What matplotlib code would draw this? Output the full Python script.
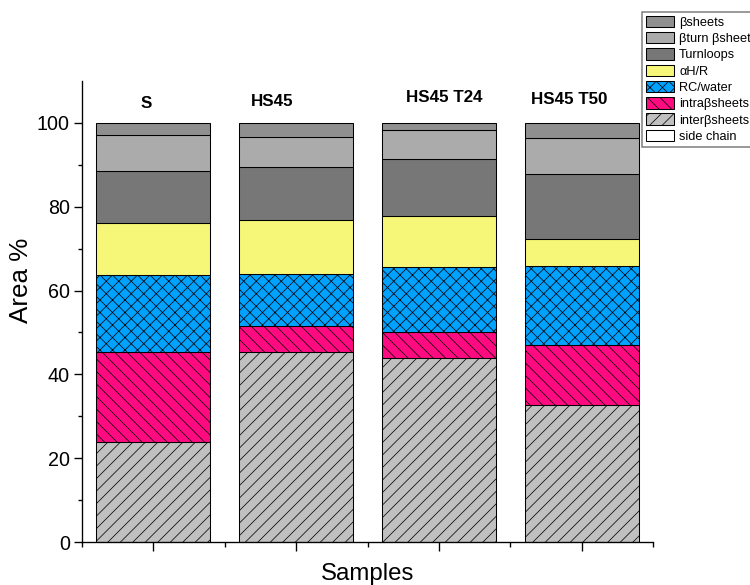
import numpy as np
import matplotlib.pyplot as plt
from matplotlib.ticker import MultipleLocator

plt.rcParams['font.family'] = ['Liberation Sans', 'DejaVu Sans']
plt.rcParams['hatch.linewidth'] = 0.7

samples = ['S', 'HS45', 'HS45 T24', 'HS45 T50']
# stacked layers, bottom to top (Area %)
side_chain = [0.0, 0.0, 0.0, 0.0]
inter_b = [23.8, 45.3, 43.8, 32.7]
intra_b = [21.6, 6.3, 6.3, 14.2]
rc_water = [18.3, 12.3, 15.6, 18.9]
alpha_hr = [12.5, 12.9, 12.2, 6.4]
turnloops = [12.3, 12.8, 13.5, 15.7]
bturn = [8.7, 7.1, 6.8, 8.4]
bsheets = [2.8, 3.3, 1.8, 3.7]

layers = [
    ('side chain', side_chain, 'white', None),
    ('inter\u03b2sheets', inter_b, '#c0c0c0', '//'),
    ('intra\u03b2sheets', intra_b, '#ff0a80', '\\\\'),
    ('RC/water', rc_water, '#00a2ff', 'xx'),
    ('\u03b1H/R', alpha_hr, '#f6f678', None),
    ('Turnloops', turnloops, '#777777', None),
    ('\u03b2turn \u03b2sheet', bturn, '#ababab', None),
    ('\u03b2sheets', bsheets, '#8f8f8f', None),
]

fig = plt.figure(figsize=(10, 7.8), dpi=75)
ax = fig.add_axes([0.1093, 0.0735, 0.7614, 0.788])

x = np.arange(1, len(samples) + 1)
bottom = np.zeros(len(samples))
handles = []
for name, vals, col, hatch in layers:
    b = ax.bar(x, vals, bottom=bottom, width=0.8, color=col,
               edgecolor='black', linewidth=1.0, hatch=hatch, label=name)
    handles.append(b)
    bottom += np.array(vals)

# sample names above the bars
label_x = [0.95, 1.83, 3.04, 3.91]
label_y = [104.6, 105.2, 106.0, 105.7]
for lx, ly, s in zip(label_x, label_y, samples):
    ax.text(lx, ly, s, ha='center', va='center', fontsize=16.3,
            fontweight='bold')

ax.set_xlim(0.5, 4.5)
ax.set_ylim(0, 110)
ax.spines['top'].set_visible(False)
ax.spines['right'].set_visible(False)
for sp in ('left', 'bottom'):
    ax.spines[sp].set_linewidth(1.3)

ax.yaxis.set_major_locator(plt.FixedLocator([0, 20, 40, 60, 80, 100]))
ax.yaxis.set_minor_locator(plt.FixedLocator([10, 30, 50, 70, 90]))
ax.xaxis.set_major_locator(plt.FixedLocator(x))
ax.xaxis.set_minor_locator(MultipleLocator(1, offset=0.5))
ax.set_xticklabels([])
ax.tick_params(axis='y', which='major', length=8, width=1.3, labelsize=19)
ax.tick_params(axis='y', which='minor', length=4, width=1.3)
ax.tick_params(axis='x', which='major', length=9, width=1.3)
ax.tick_params(axis='x', which='minor', length=4.5, width=1.3)

ax.set_ylabel('Area %', fontsize=25, labelpad=2)
ax.yaxis.set_label_coords(-0.085, 0.568)
ax.set_xlabel('Samples', fontsize=23, labelpad=8)

leg = ax.legend(handles[::-1], [l[0] for l in layers[::-1]],
                loc='upper left', bbox_to_anchor=(0.856, 0.98),
                bbox_transform=fig.transFigure, fontsize=12.3,
                frameon=True, fancybox=False, edgecolor='#808080',
                framealpha=1, handlelength=2.2, handleheight=1.0,
                handletextpad=0.4, labelspacing=0.25, borderpad=0.3,
                borderaxespad=0)
leg.get_frame().set_linewidth(1.5)

fig.savefig('out.png', dpi=75)
